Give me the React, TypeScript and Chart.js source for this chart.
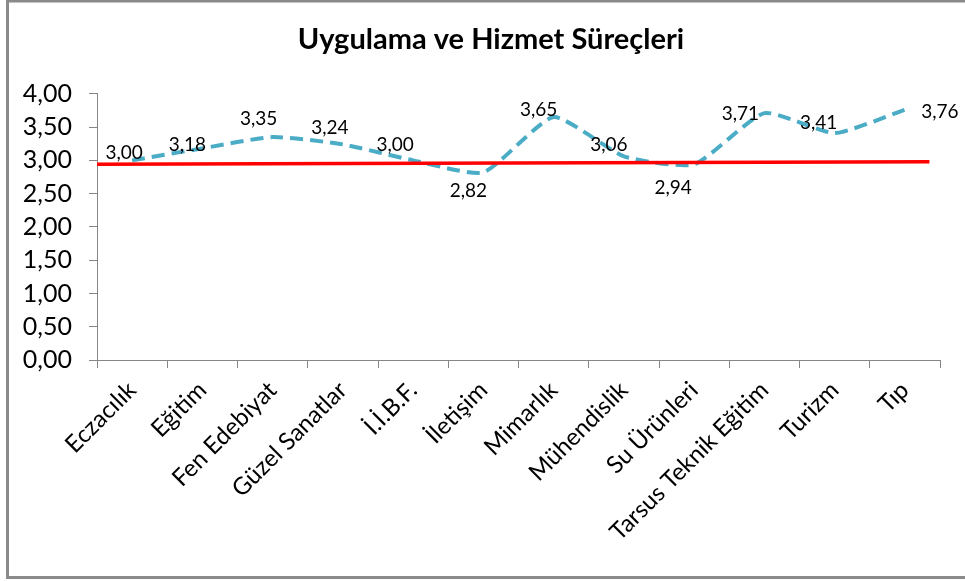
import React, { useEffect, useRef } from "react";
import { Chart, registerables } from "chart.js";

Chart.register(...registerables);

const categories = [
  "Eczacılık",
  "Eğitim",
  "Fen Edebiyat",
  "Güzel Sanatlar",
  "İ.İ.B.F.",
  "İletişim",
  "Mimarlık",
  "Mühendislik",
  "Su Ürünleri",
  "Tarsus Teknik Eğitim",
  "Turizm",
  "Tıp",
];

const scores = [3.0, 3.18, 3.35, 3.24, 3.0, 2.82, 3.65, 3.06, 2.94, 3.71, 3.41, 3.76];

// red reference line: positions along category span (0..12) and values
const refLineX = [0, 11.85];
const refLineY = [2.94, 2.98];

const yTicks = [0, 0.5, 1, 1.5, 2, 2.5, 3, 3.5, 4];

const TITLE = "Uygulama ve Hizmet Süreçleri";

// label offsets relative to each point (style only)
const labelOffsets: [number, number][] = [
  [-8, -7],
  [-15, -3],
  [-14, -18],
  [-13, -17],
  [-18, -15],
  [-15, 19],
  [-15, -7],
  [-15, -11],
  [-21, 24],
  [-24, 1],
  [-16, -10],
  [35, 2],
];

const fmt = (v: number) => v.toFixed(2).replace(".", ",");

const FONT = "Lato, 'Open Sans', sans-serif";

const frame = {
  id: "frame",
  beforeDraw(chart: any) {
    const { ctx, width, height } = chart;
    ctx.save();
    ctx.fillStyle = "#ffffff";
    ctx.fillRect(0, 0, width, height);
    ctx.strokeStyle = "#8a8a8a";
    ctx.lineWidth = 3;
    ctx.strokeRect(7.5, 1, width + 10, height - 4.5);
    ctx.restore();
  },
  afterDraw(chart: any) {
    const tb = chart.titleBlock;
    if (!tb) return;
    const { ctx } = chart;
    ctx.save();
    ctx.font = `bold 29px ${FONT}`;
    ctx.fillStyle = "#000000";
    ctx.textAlign = "center";
    ctx.textBaseline = "middle";
    const pad = tb.options.padding;
    const cy = tb.top + pad.top + (tb.height - pad.top - pad.bottom) / 2;
    ctx.fillText(TITLE, (tb.left + tb.right) / 2 + 16, cy);
    ctx.restore();
  },
};

const valueLabels = {
  id: "valueLabels",
  afterDatasetsDraw(chart: any) {
    const meta = chart.getDatasetMeta(1);
    const { ctx } = chart;
    ctx.save();
    ctx.font = `19px ${FONT}`;
    ctx.fillStyle = "#000000";
    ctx.textAlign = "center";
    ctx.textBaseline = "middle";
    meta.data.forEach((el: any, i: number) => {
      const [dx, dy] = labelOffsets[i];
      ctx.fillText(fmt(scores[i]), el.x + dx, el.y + dy);
    });
    ctx.restore();
  },
};

export default function App() {
  const ref = useRef<HTMLCanvasElement>(null);

  useEffect(() => {
    if (!ref.current) return;
    const chart = new Chart(ref.current, {
      type: "line",
      data: {
        labels: categories,
        datasets: [
          {
            label: "Ortalama",
            data: refLineX.map((x, i) => ({ x, y: refLineY[i] })),
            xAxisID: "x2",
            borderColor: "#ff0000",
            borderWidth: 3.5,
            pointRadius: 0,
            tension: 0,
            order: 0,
          } as any,
          {
            label: TITLE,
            data: scores,
            xAxisID: "x",
            borderColor: "#4bacc6",
            borderWidth: 4,
            borderDash: [13, 7],
            pointRadius: 0,
            tension: 0.18,
            order: 1,
          },
        ],
      },
      options: {
        animation: false,
        responsive: false,
        devicePixelRatio: 1,
        layout: { padding: { left: 10, right: 25, top: 0, bottom: 0 } },
        plugins: {
          legend: { display: false },
          tooltip: { enabled: false },
          title: {
            display: true,
            text: TITLE,
            color: "rgba(0,0,0,0)",
            font: { family: FONT, size: 29, weight: "bold" },
            padding: { top: 22, bottom: 37 },
          },
        },
        scales: {
          x: {
            type: "category",
            offset: true,
            grid: {
              offset: true,
              drawOnChartArea: false,
              drawTicks: true,
              tickLength: 8,
              color: "#868686",
            },
            border: { display: true, color: "#868686", width: 1 },
            ticks: {
              autoSkip: false,
              minRotation: 45,
              maxRotation: 45,
              padding: 8,
              color: "#000000",
              font: { family: FONT, size: 24 },
            },
            afterFit: (s: any) => {
              s.height = 221;
            },
          },
          x2: {
            type: "linear",
            display: false,
            min: 0,
            max: categories.length,
          },
          y: {
            min: 0,
            max: 4,
            afterBuildTicks: (s: any) => {
              s.ticks = yTicks.map((v) => ({ value: v }));
            },
            grid: {
              drawOnChartArea: false,
              drawTicks: true,
              tickLength: 8,
              color: "#868686",
            },
            border: { display: true, color: "#868686", width: 1 },
            ticks: {
              padding: 17,
              color: "#000000",
              font: { family: FONT, size: 25 },
              callback: (v: any) => fmt(Number(v)),
            },
            afterFit: (s: any) => {
              s.width = 87;
            },
          },
        },
      },
      plugins: [frame, valueLabels],
    });
    return () => chart.destroy();
  }, []);

  return (
    <div style={{ position: "fixed", left: 0, top: 0, width: 965, height: 581 }}>
      <canvas ref={ref} width={965} height={581} style={{ display: "block" }} />
    </div>
  );
}
